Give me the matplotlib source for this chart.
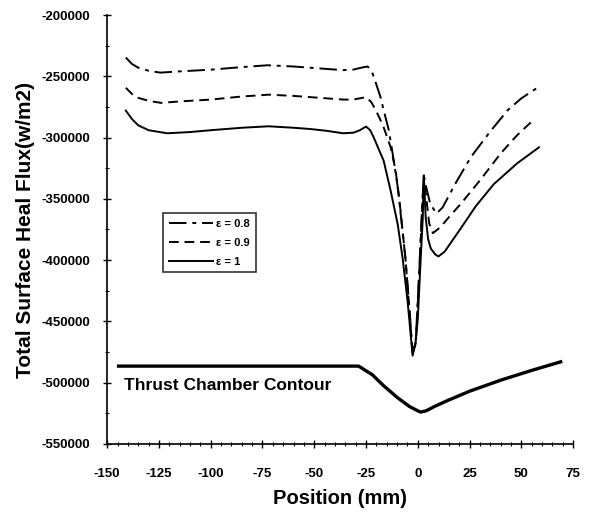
import numpy as np
import matplotlib.pyplot as plt
from matplotlib.ticker import MultipleLocator

plt.rcParams['font.family'] = ['Liberation Sans', 'DejaVu Sans']
plt.rcParams['axes.unicode_minus'] = False

# eps = 0.8 (dash-dot)
x08 = [-141, -138, -135, -130, -124.4, -115, -100, -85, -72.6, -60, -52, -44, -36, -31, -28.6, -26, -24.2, -22, -20.3, -18, -16.5, -14, -11.6, -9.2, -8.3, -6, -4, -2.5, -1, 0.5, 2, 2.9, 4, 6, 9, 12, 18, 25.6, 35, 43.5, 50, 58.5]
y08 = [-234700, -240000, -243000, -245500, -247000, -246000, -244600, -242500, -241000, -242000, -243000, -244000, -245000, -244500, -243500, -242500, -242000, -247000, -255300, -267000, -277500, -294000, -318800, -346000, -362000, -398000, -440000, -476000, -466000, -415000, -360000, -331000, -340000, -354000, -362000, -357000, -338000, -316000, -295000, -277500, -268000, -258500]

# eps = 0.9 (dashed)
x09 = [-141, -138, -135, -130, -124, -115, -100, -85, -72, -60, -52, -44, -36, -31.5, -28, -25, -22.5, -20.3, -18.5, -16.5, -13.1, -10.7, -8.3, -6, -4, -2.5, -1, 0.5, 2, 2.9, 4, 5.5, 7.3, 11, 15, 20.8, 30, 40, 48, 55.6]
y09 = [-259400, -264500, -267600, -270000, -271700, -270500, -269000, -266500, -265000, -266000, -267000, -268000, -269000, -269000, -268000, -267000, -271000, -277600, -284000, -291500, -308000, -327000, -360000, -398000, -442000, -477000, -468000, -418000, -362000, -331000, -348000, -370000, -378000, -373000, -365000, -354000, -335000, -313000, -298000, -286000]

# eps = 1 (solid)
x10 = [-141, -138, -135, -130, -121, -110, -100, -85, -72, -60, -52, -44, -36, -31, -28, -25, -23, -21.3, -19, -16.5, -13.1, -9.7, -7.3, -4.9, -3.4, -2.5, -1, 0, 1.4, 2.4, 2.9, 3.8, 5, 6.3, 8.5, 10, 13, 20.8, 28, 36.7, 48, 58.5]
y10 = [-278000, -285000, -290000, -294000, -296500, -295500, -294000, -292000, -290800, -292000, -293000, -294500, -296500, -296000, -294000, -291000, -294000, -299800, -309000, -318800, -343500, -370800, -398800, -434000, -461600, -478000, -466000, -448000, -398800, -365800, -331000, -365000, -383000, -390600, -395500, -397000, -393000, -374000, -356000, -338000, -321000, -308000]

# thrust chamber contour
xc = [-144.5, -100, -60, -28.6, -22, -16.5, -10, -4, 0, 1.4, 4, 8, 14.5, 25, 40, 55, 69]
yc = [-486500, -486500, -486500, -486500, -493500, -502500, -512000, -519500, -523000, -524000, -523000, -519500, -514500, -507000, -498000, -490000, -483000]

fig = plt.figure(figsize=(5.89, 5.18), dpi=100)
ax = fig.add_axes([0.182, 0.143, 0.791, 0.828])

ax.plot(x08, y08, color='black', lw=1.4, linestyle=(0, (9, 3, 2, 3)), label='ε = 0.8')
ax.plot(x09, y09, color='black', lw=1.4, linestyle=(0, (5, 3)), label='ε = 0.9')
ax.plot(x10, y10, color='black', lw=1.4, label='ε = 1')
ax.plot(xc, yc, color='black', lw=2.4)

ax.text(-142, -502000, 'Thrust Chamber Contour', fontsize=12.5, fontweight='bold', va='center')

ax.set_xlim(-150, 75)
ax.set_ylim(-550000, -200000)
ax.xaxis.set_major_locator(MultipleLocator(25))
ax.xaxis.set_minor_locator(MultipleLocator(5))
ax.yaxis.set_major_locator(MultipleLocator(50000))
ax.yaxis.set_minor_locator(MultipleLocator(25000))
ax.tick_params(which='major', direction='inout', length=6, width=1, labelsize=9.5)
ax.tick_params(axis='x', which='major', pad=14)
ax.tick_params(axis='y', which='major', pad=9)
ax.tick_params(which='minor', direction='inout', length=3, width=0.8)
for lab in ax.get_xticklabels() + ax.get_yticklabels():
    lab.set_fontweight('bold')
ax.spines['top'].set_visible(False)
ax.spines['right'].set_visible(False)
for s in ['left', 'bottom']:
    ax.spines[s].set_linewidth(1.2)

ax.set_xlabel('Position (mm)', fontsize=14.5, fontweight='bold', labelpad=7)
ax.set_ylabel('Total Surface Heal Flux(w/m2)', fontsize=15, fontweight='bold', labelpad=5)

leg = ax.legend(loc='upper left', bbox_to_anchor=(0.12, 0.538), fontsize=8, frameon=True,
                fancybox=False, edgecolor='black', handlelength=4.0, handletextpad=0.3,
                borderpad=0.5, labelspacing=0.8, borderaxespad=0)
leg.get_frame().set_linewidth(1.2)
for t in leg.get_texts():
    t.set_fontweight('bold')

fig.savefig('out.png', dpi=100)
